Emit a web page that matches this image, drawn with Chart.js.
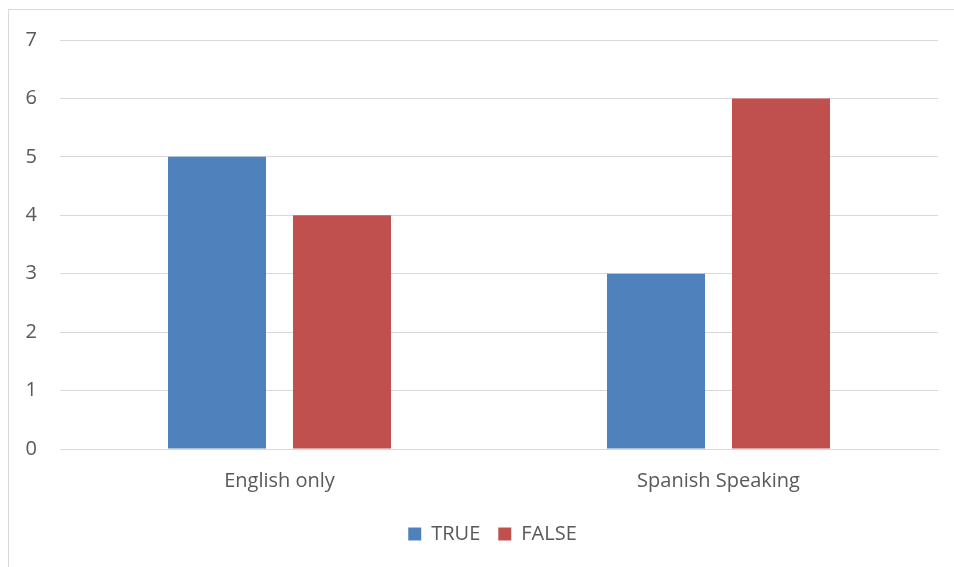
<!DOCTYPE html>
<html lang="en">
<head>
    <meta charset="UTF-8">
    <title>TRUE / FALSE</title>
    <script src="https://cdn.jsdelivr.net/npm/chart.js"></script>
    <style>
        html, body { margin: 0; padding: 0; background: #fff; overflow: hidden; }
        .frame {
            position: absolute; left: 8px; top: 9px;
            width: 960px; height: 570px;
            border: 1px solid #d9d9d9; background: #fff;
        }
        .frame canvas { position: absolute; left: 0; top: 0; }
    </style>
</head>
<body>
    <div class="frame">
        <canvas id="myChart" width="945" height="557"></canvas>
    </div>

    <script>
        // donnees
        const categories = ['English only', 'Spanish Speaking'];
        const trueValues = [5, 3];
        const falseValues = [4, 6];
        const yTicks = [0, 1, 2, 3, 4, 5, 6, 7];

        const textColor = '#595959';
        const gridColor = '#d9d9d9';
        const fontFamily = "'Open Sans', 'Liberation Sans', sans-serif";
        const fontSize = 20;

        // decale la legende vers la droite (centree sur le cadre, pas sur le canvas)
        const legendShift = {
            id: 'legendShift',
            afterLayout: function (chart) {
                chart.legend.left += 19;
                chart.legend.right += 19;
            }
        };

        const ctx = document.getElementById('myChart').getContext('2d');
        new Chart(ctx, {
            type: 'bar',
            data: {
                labels: categories,
                datasets: [
                    { label: 'TRUE', data: trueValues, backgroundColor: '#4f81bd' },
                    { label: 'FALSE', data: falseValues, backgroundColor: '#c0504d' }
                ]
            },
            plugins: [legendShift],
            options: {
                responsive: false,
                animation: false,
                categoryPercentage: 0.5695,
                barPercentage: 0.784,
                layout: { padding: { left: 0, right: 16, top: 30, bottom: 13 } },
                plugins: {
                    tooltip: { enabled: false },
                    legend: {
                        position: 'bottom',
                        labels: {
                            color: textColor,
                            font: { family: fontFamily, size: fontSize },
                            boxWidth: 13,
                            boxHeight: 13,
                            padding: 18
                        }
                    }
                },
                scales: {
                    x: {
                        grid: { display: false },
                        border: { display: true, color: gridColor, width: 1 },
                        ticks: {
                            color: textColor,
                            font: { family: fontFamily, size: fontSize },
                            padding: 12
                        },
                        afterFit: function (scale) { scale.height = 57; }
                    },
                    y: {
                        min: 0,
                        max: 7,
                        afterBuildTicks: function (scale) {
                            scale.ticks = yTicks.map(v => ({ value: v }));
                        },
                        grid: { color: gridColor, lineWidth: 1, drawTicks: false },
                        border: { display: false },
                        ticks: {
                            color: textColor,
                            font: { family: fontFamily, size: fontSize },
                            padding: 23
                        },
                        afterFit: function (scale) {
                            scale.width = 51;
                            scale.paddingTop = 12;
                            scale.paddingBottom = 12;
                        }
                    }
                }
            }
        });
    </script>
</body>
</html>
